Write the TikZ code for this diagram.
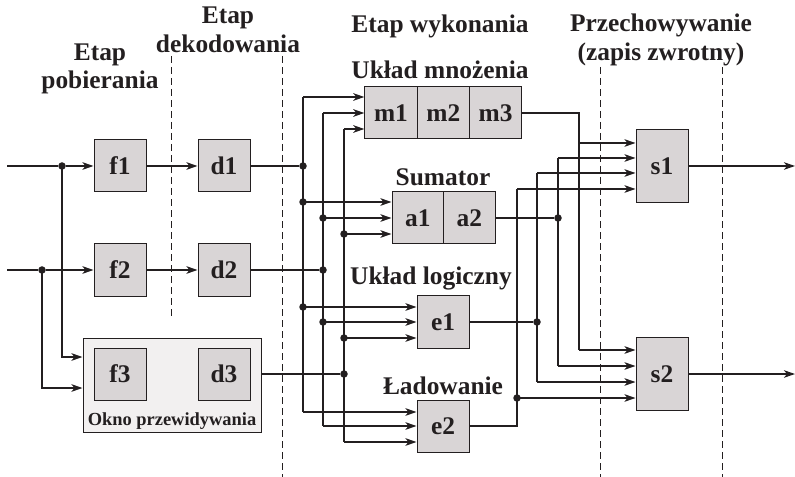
\documentclass[tikz,border=0pt]{standalone}
\usepackage{fontspec}
\setmainfont{Liberation Serif}
\usetikzlibrary{arrows.meta,calc}
\definecolor{linec}{HTML}{231F20}
\definecolor{boxfill}{HTML}{D9D5D6}
\definecolor{winfill}{HTML}{F2F0F0}
\definecolor{txt}{HTML}{231F20}
\begin{document}
\begin{tikzpicture}[x=1bp,y=-1bp,
  box/.style={draw=linec, fill=boxfill, line width=1bp, minimum width=52bp, minimum height=52bp, inner sep=0pt, font=\bfseries\fontsize{25.5}{28}\selectfont, text=txt},
  win/.style={draw=linec, fill=winfill, line width=1bp, inner sep=0pt},
  head/.style={font=\bfseries\fontsize{25.5}{28.5}\selectfont, text=txt, align=center, inner sep=0pt},
  small/.style={font=\bfseries\fontsize{18.5}{20}\selectfont, text=txt, inner sep=0pt},
  wire/.style={draw=linec, line width=2.1bp},
  thin/.style={draw=linec, line width=1.7bp},
  arr/.style={wire, -{Stealth[length=11bp, width=7.5bp, inset=3bp]}},
  tarr/.style={thin, -{Stealth[length=11bp, width=7.5bp, inset=3bp]}},
  dot/.style={circle, fill=linec, inner sep=0pt, minimum size=7.5bp},
  sep/.style={draw=linec, line width=0.9bp, dash pattern=on 7bp off 4bp}
]
\useasboundingbox (0,0) rectangle (795,477);

% separators
\draw[sep] (171,56) -- (171,317);
\draw[sep] (282,56) -- (282,477);
\draw[sep] (600,67) -- (600,477);
\draw[sep] (722,67) -- (722,477);

% headings
\node[head] at (100,69) {Etap\\pobierania};
\node[head] at (228,30) {Etap\\dekodowania};
\node[head] at (440,26) {Etap wykonania};
\node[head] at (440,70) {Układ mnożenia};
\node[head] at (661,40) {Przechowywanie\\(zapis zwrotny)};
\node[head] at (443,177) {Sumator};
\node[head] at (431,278) {Układ logiczny};
\node[head] at (443,386) {Ładowanie};

% window
\node[win, minimum width=178bp, minimum height=94bp] (okno) at (172,385) {};
\node[small] (oknolab) at (172,421) {Okno przewidywania};

% boxes
\node[box] (f1) at (120,166) {f1};
\node[box] (d1) at (224,166) {d1};
\node[box] (f2) at (120,270) {f2};
\node[box] (d2) at (224,270) {d2};
\node[box] (f3) at (120,374) {f3};
\node[box] (d3) at (224,374) {d3};

\node[box, minimum width=52.3bp] (m1) at (391,113) {m1};
\node[box, minimum width=52.3bp] (m2) at (443.3,113) {m2};
\node[box, minimum width=52.3bp] (m3) at (495.6,113) {m3};
\node[box, minimum width=51.5bp] (a1) at (417.75,218) {a1};
\node[box, minimum width=51.5bp] (a2) at (469.25,218) {a2};
\node[box] (e1) at (443,322) {e1};
\node[box] (e2) at (443,426) {e2};
\node[box, minimum height=73bp] (s1) at (662,166) {s1};
\node[box, minimum height=73bp] (s2) at (662,374) {s2};

% inputs
\coordinate (in1) at (7,166);
\coordinate (in2) at (7,270);
\node[dot] (j1) at (62,166) {};
\node[dot] (j2) at (42,270) {};
\draw[wire] (in1) -- (j1);
\draw[arr] (j1) -- (f1);
\draw[wire] (in2) -- (j2);
\draw[arr] (j2) -- (f2);
\draw[arr] (j1.center) |- (okno.west |- 0,357);
\draw[arr] (j2.center) |- (okno.west |- 0,388);
\draw[arr] (f1) -- (d1);
\draw[arr] (f2) -- (d2);

% decode outputs to buses
\node[dot] (bd1) at (303,166) {};
\node[dot] (bd2) at (323,270) {};
\node[dot] (bd3) at (344,374) {};
\draw[wire] (d1) -- (bd1);
\draw[wire] (d2) -- (bd2);
\draw[thin] (okno.east |- d3) -- (bd3);

% bus taps
\node[dot] (t1a) at (303,202) {};
\node[dot] (t2a) at (323,218) {};
\node[dot] (t3a) at (344,234) {};
\node[dot] (t1e) at (303,307) {};
\node[dot] (t2e) at (323,322) {};
\node[dot] (t3e) at (344,338) {};
\coordinate (t1m) at (303,97);
\coordinate (t2m) at (323,113);
\coordinate (t3m) at (344,129);
\coordinate (t1l) at (303,412);
\coordinate (t2l) at (323,426);
\coordinate (t3l) at (344,442);

% vertical buses
\draw[wire] (t1m) -- (t1l);
\draw[wire] (t2m) -- (t2l);
\draw[wire] (t3m) -- (t3l);

% bus -> units
\draw[arr] (t1m) -- (m1.west |- t1m);
\draw[arr] (t2m) -- (m1.west |- t2m);
\draw[arr] (t3m) -- (m1.west |- t3m);
\draw[arr] (t1a.center) -- (a1.west |- t1a);
\draw[arr] (t2a.center) -- (a1.west |- t2a);
\draw[arr] (t3a.center) -- (a1.west |- t3a);
\draw[arr] (t1e.center) -- (e1.west |- t1e);
\draw[arr] (t2e.center) -- (e1.west |- t2e);
\draw[arr] (t3e.center) -- (e1.west |- t3e);
\draw[arr] (t1l) -- (e2.west |- t1l);
\draw[arr] (t2l) -- (e2.west |- t2l);
\draw[arr] (t3l) -- (e2.west |- t3l);

% unit outputs to store buses
\coordinate (um) at (579,113);
\node[dot] (ua) at (558,218) {};
\node[dot] (ue) at (537,322) {};
\coordinate (ul) at (517,426);
\node[dot] (ul2) at (517,398) {};
\coordinate (um1) at (579,143);
\coordinate (ua1) at (558,158);
\coordinate (ue1) at (537,173);
\coordinate (ul1) at (517,189);
\coordinate (um2) at (579,350);
\coordinate (ua2) at (558,366);
\coordinate (ue2) at (537,382);

\draw[thin] (m3.east) -- (um) -- (um2);
\draw[thin] (a2.east) -- (ua);
\draw[thin] (ua1) -- (ua2);
\draw[thin] (e1.east) -- (ue);
\draw[thin] (ue1) -- (ue2);
\draw[thin] (e2.east) -- (ul) -- (ul1);

\draw[tarr] (um1) -- (s1.west |- um1);
\draw[tarr] (ua1) -- (s1.west |- ua1);
\draw[tarr] (ue1) -- (s1.west |- ue1);
\draw[tarr] (ul1) -- (s1.west |- ul1);
\draw[tarr] (um2) -- (s2.west |- um2);
\draw[tarr] (ua2) -- (s2.west |- ua2);
\draw[tarr] (ue2) -- (s2.west |- ue2);
\draw[tarr] (ul2.center) -- (s2.west |- ul2);

% outputs
\coordinate (o1) at (795,166);
\coordinate (o2) at (795,374);
\draw[tarr] (s1) -- (o1);
\draw[tarr] (s2) -- (o2);
\end{tikzpicture}
\end{document}
